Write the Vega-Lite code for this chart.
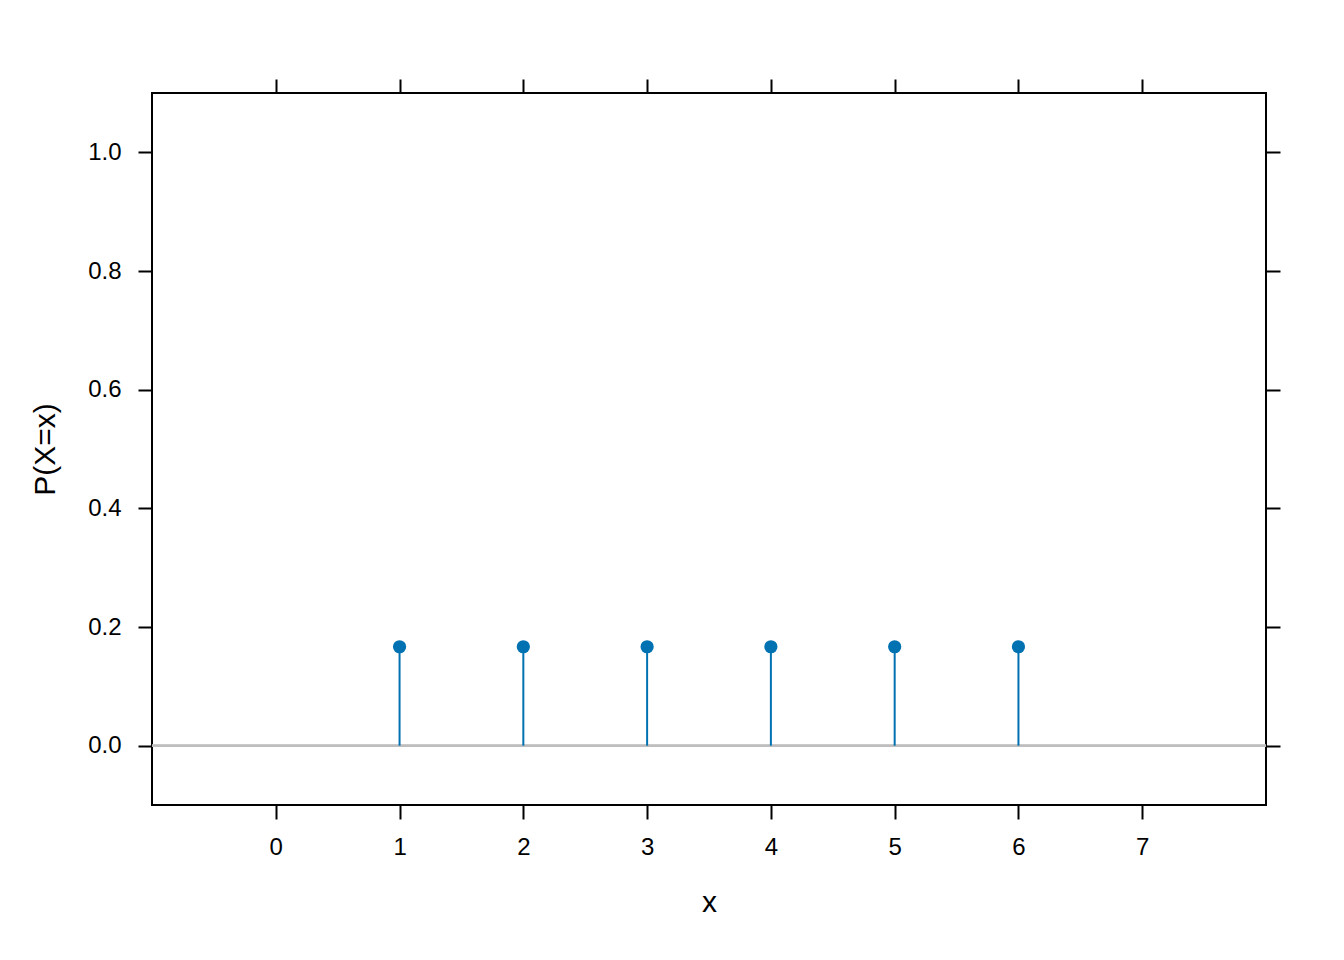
{
  "$schema": "https://vega.github.io/schema/vega-lite/v6.json",
  "width": 1114,
  "height": 712,
  "autosize": {"type": "none"},
  "padding": {"left": 152, "top": 93, "right": 78, "bottom": 155},
  "background": "white",
  "config": {
    "view": {"stroke": "black", "strokeWidth": 2},
    "axis": {
      "domain": false,
      "grid": false,
      "tickColor": "black",
      "tickWidth": 2,
      "tickSize": 14,
      "labelFont": "Liberation Sans",
      "labelFontSize": 24,
      "labelColor": "black",
      "titleFont": "Liberation Sans",
      "titleFontSize": 30,
      "titleFontWeight": "normal",
      "titleColor": "black"
    }
  },
  "data": {
    "values": [
      {"x": 1, "p": 0.1667, "z": 0},
      {"x": 2, "p": 0.1667, "z": 0},
      {"x": 3, "p": 0.1667, "z": 0},
      {"x": 4, "p": 0.1667, "z": 0},
      {"x": 5, "p": 0.1667, "z": 0},
      {"x": 6, "p": 0.1667, "z": 0}
    ]
  },
  "layer": [
    {
      "mark": {"type": "rule", "color": "#BEBEBE", "strokeWidth": 2},
      "encoding": {
        "y": {"field": "z", "type": "quantitative", "scale": {"domain": [-0.1, 1.1], "nice": false, "zero": false},
          "axis": {"orient": "left", "values": [0, 0.2, 0.4, 0.6, 0.8, 1.0], "format": ".1f", "labelPadding": 17, "title": "P(X=x)", "titlePadding": 27}}
      }
    },
    {
      "mark": {"type": "rule", "color": "#0072B2", "strokeWidth": 2},
      "encoding": {
        "x": {"field": "x", "type": "quantitative", "scale": {"domain": [-1, 8], "nice": false, "zero": false},
          "axis": {"orient": "bottom", "values": [0, 1, 2, 3, 4, 5, 6, 7], "labelPadding": 16, "title": "x", "titlePadding": 28}},
        "y": {"field": "z", "type": "quantitative", "axis": null},
        "y2": {"field": "p"}
      }
    },
    {
      "mark": {"type": "point", "filled": true, "color": "#0072B2", "size": 175, "opacity": 1},
      "encoding": {
        "x": {"field": "x", "type": "quantitative",
          "axis": {"orient": "top", "values": [0, 1, 2, 3, 4, 5, 6, 7], "labels": false, "title": null}},
        "y": {"field": "p", "type": "quantitative",
          "axis": {"orient": "right", "values": [0, 0.2, 0.4, 0.6, 0.8, 1.0], "labels": false, "title": null}}
      }
    }
  ],
  "resolve": {"axis": {"x": "independent", "y": "independent"}}
}
